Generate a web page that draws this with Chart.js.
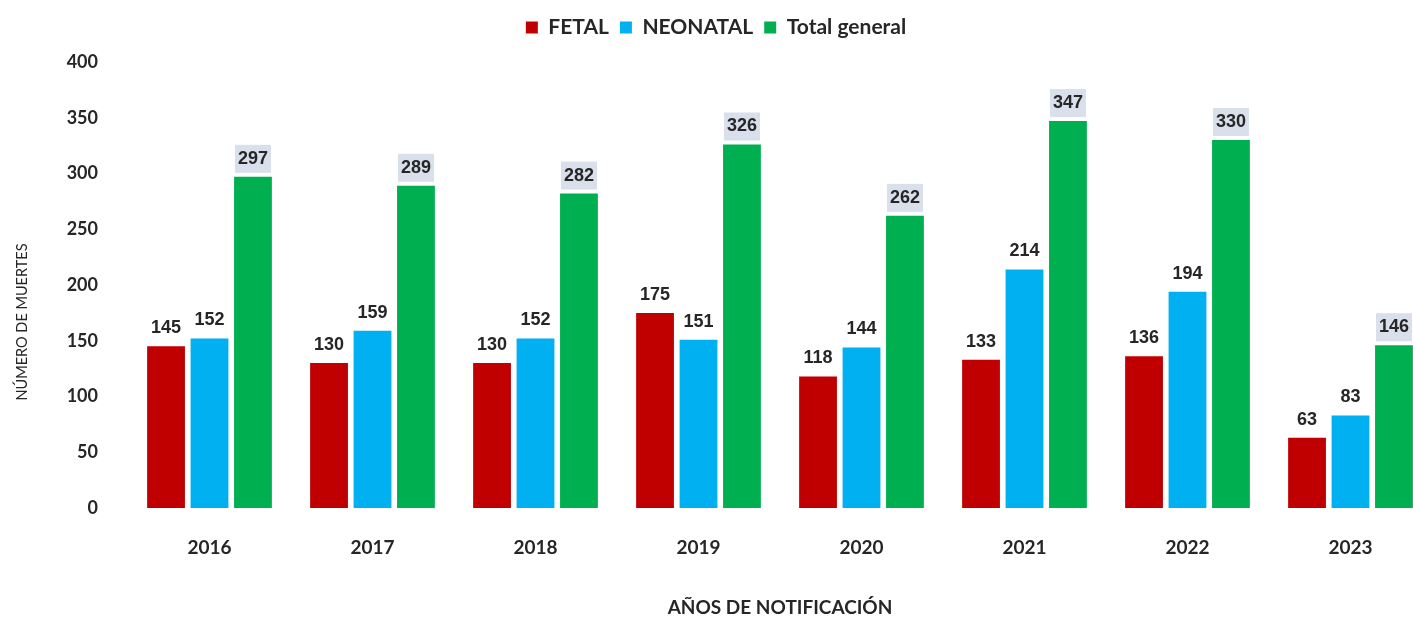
<!DOCTYPE html>
<html>
<head>
<meta charset="utf-8">
<script src="https://cdn.jsdelivr.net/npm/chart.js@4.4.1/dist/chart.umd.min.js"></script>
<style>
html,body{margin:0;padding:0;background:#fff;overflow:hidden;}
#wrap{position:relative;width:1434px;height:619px;}
</style>
</head>
<body>
<div id="wrap"><canvas id="c"></canvas></div>
<script>
const categories = ['2016','2017','2018','2019','2020','2021','2022','2023'];
const fetal = [145,130,130,175,118,133,136,63];
const neonatal = [152,159,152,151,144,214,194,83];
const totalGeneral = [297,289,282,326,262,347,330,146];
const yTicks = [0,50,100,150,200,250,300,350,400];
const yTitle = 'NÚMERO DE MUERTES';

const FONT = 'Lato, "Open Sans", sans-serif';

const labelPlugin = {
  id: 'barLabels',
  afterInit(chart) {
    const lg = chart.legend;
    if (lg && !lg._patched) {
      const f = lg.fit.bind(lg);
      lg.fit = function() { f(); this.height += 14; };
      lg._patched = true;
    }
  },
  afterDraw(chart) {
    const ctx = chart.ctx;
    ctx.save();
    ctx.translate(22, 322);
    ctx.rotate(-Math.PI/2);
    ctx.font = '14.5px ' + FONT;
    ctx.fillStyle = '#262626';
    ctx.textAlign = 'center';
    ctx.textBaseline = 'middle';
    ctx.fillText(yTitle, 0, 0);
    ctx.restore();
  },
  afterDatasetsDraw(chart) {
    const ctx = chart.ctx;
    ctx.save();
    ctx.font = 'bold 18px "Liberation Sans", Arial, sans-serif';
    ctx.textAlign = 'center';
    ctx.textBaseline = 'middle';
    chart.data.datasets.forEach((ds, di) => {
      const meta = chart.getDatasetMeta(di);
      meta.data.forEach((bar, i) => {
        const txt = String(ds.data[i]);
        const cx = bar.x;
        const cy = bar.y - 19;
        if (di === 2) {
          const w = ctx.measureText(txt).width + 6;
          const h = 28;
          ctx.fillStyle = '#dadfec';
          ctx.fillRect(cx - w/2, cy - h/2 + 1, w, h);
        }
        ctx.fillStyle = '#262626';
        ctx.fillText(txt, cx, cy + 1);
      });
    });
    ctx.restore();
  }
};

new Chart(document.getElementById('c'), {
  type: 'bar',
  data: {
    labels: categories,
    datasets: [
      {label: 'FETAL', data: fetal, backgroundColor: '#c00000'},
      {label: 'NEONATAL', data: neonatal, backgroundColor: '#00b0f0'},
      {label: 'Total general', data: totalGeneral, backgroundColor: '#00b050'}
    ]
  },
  options: {
    responsive: true,
    maintainAspectRatio: false,
    animation: false,
    layout: {padding: {top: 6, right: 2, bottom: 0, left: 0}},
    datasets: {bar: {categoryPercentage: 0.8, barPercentage: 0.87}},
    plugins: {
      legend: {
        position: 'top',
        labels: {
          boxWidth: 12, boxHeight: 12, padding: 11,
          color: '#262626',
          font: {family: FONT, size: 21, weight: 'bold'}
        }
      },
      tooltip: {enabled: false}
    },
    scales: {
      x: {
        grid: {display: false},
        border: {display: false},
        ticks: {color: '#262626', padding: 20, font: {family: FONT, size: 19, weight: 'bold'}},
        title: {display: true, text: 'AÑOS DE NOTIFICACIÓN', color: '#262626', padding: {top: 0, bottom: 0},
          font: {family: FONT, size: 19, weight: 'bold'}},
        afterFit(s) { s.height = 111; }
      },
      y: {
        min: 0, max: 400,
        afterBuildTicks(s) { s.ticks = yTicks.map(v => ({value: v})); },
        grid: {display: false},
        border: {display: false},
        ticks: {color: '#262626', padding: 22, font: {family: FONT, size: 18, weight: 'bold'}},
        title: {display: false},
        afterFit(s) { s.width = 128; }
      }
    }
  },
  plugins: [labelPlugin]
});
</script>
</body>
</html>
